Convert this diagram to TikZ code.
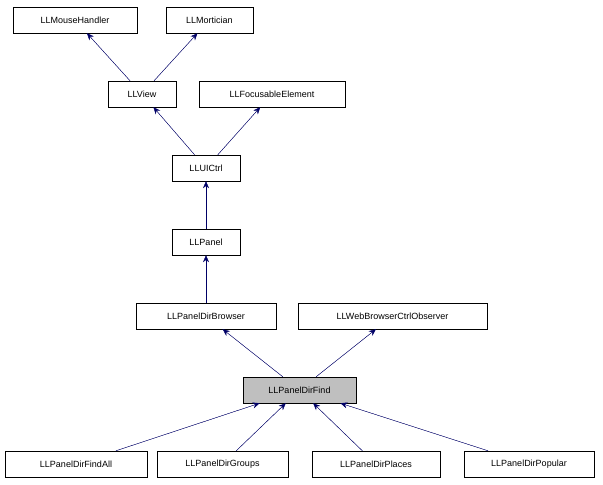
\documentclass[tikz,border=0pt]{standalone}
\usepackage{fontspec}
\setmainfont{Liberation Sans}
\usetikzlibrary{arrows.meta}
\begin{document}
\begin{tikzpicture}[x=1pt,y=-1pt,
 cls/.style={draw,thin,minimum height=26pt,inner sep=0pt,font=\fontsize{9}{10}\selectfont},
 inh/.style={{Stealth[length=7pt,width=6pt]}-,draw=blue!40!black,fill=blue!40!black}]
\useasboundingbox (0,0) rectangle (603,485);
\node[cls,minimum width=124pt] (mh) at (75,20) {LLMouseHandler};
\node[cls,minimum width=87pt] (mo) at (209.5,20) {LLMortician};
\node[cls,minimum width=68pt] (vw) at (142,94) {LLView};
\node[cls,minimum width=146pt] (fe) at (272,94) {LLFocusableElement};
\node[cls,minimum width=68pt] (ui) at (206,168) {LLUICtrl};
\node[cls,minimum width=68pt] (pn) at (206,242) {LLPanel};
\node[cls,minimum width=140pt] (db) at (206,316) {LLPanelDirBrowser};
\node[cls,minimum width=189pt] (wb) at (392.5,316) {LLWebBrowserCtrlObserver};
\node[cls,minimum width=113pt,fill=black!25] (df) at (299.5,390) {LLPanelDirFind};
\node[cls,minimum width=142pt] (fa) at (76,464) {LLPanelDirFindAll};
\node[cls,minimum width=131pt] (gr) at (222.5,464) {LLPanelDirGroups};
\node[cls,minimum width=128pt] (pl) at (376,464) {LLPanelDirPlaces};
\node[cls,minimum width=130pt] (po) at (529,464) {LLPanelDirPopular};
\draw[inh] (mh) -- (vw);
\draw[inh] (mo) -- (vw);
\draw[inh] (vw) -- (ui);
\draw[inh] (fe) -- (ui);
\draw[inh] (ui) -- (pn);
\draw[inh] (pn) -- (db);
\draw[inh] (db) -- (df);
\draw[inh] (wb) -- (df);
\draw[inh] (df) -- (fa);
\draw[inh] (df) -- (gr);
\draw[inh] (df) -- (pl);
\draw[inh] (df) -- (po);
\end{tikzpicture}
\end{document}
